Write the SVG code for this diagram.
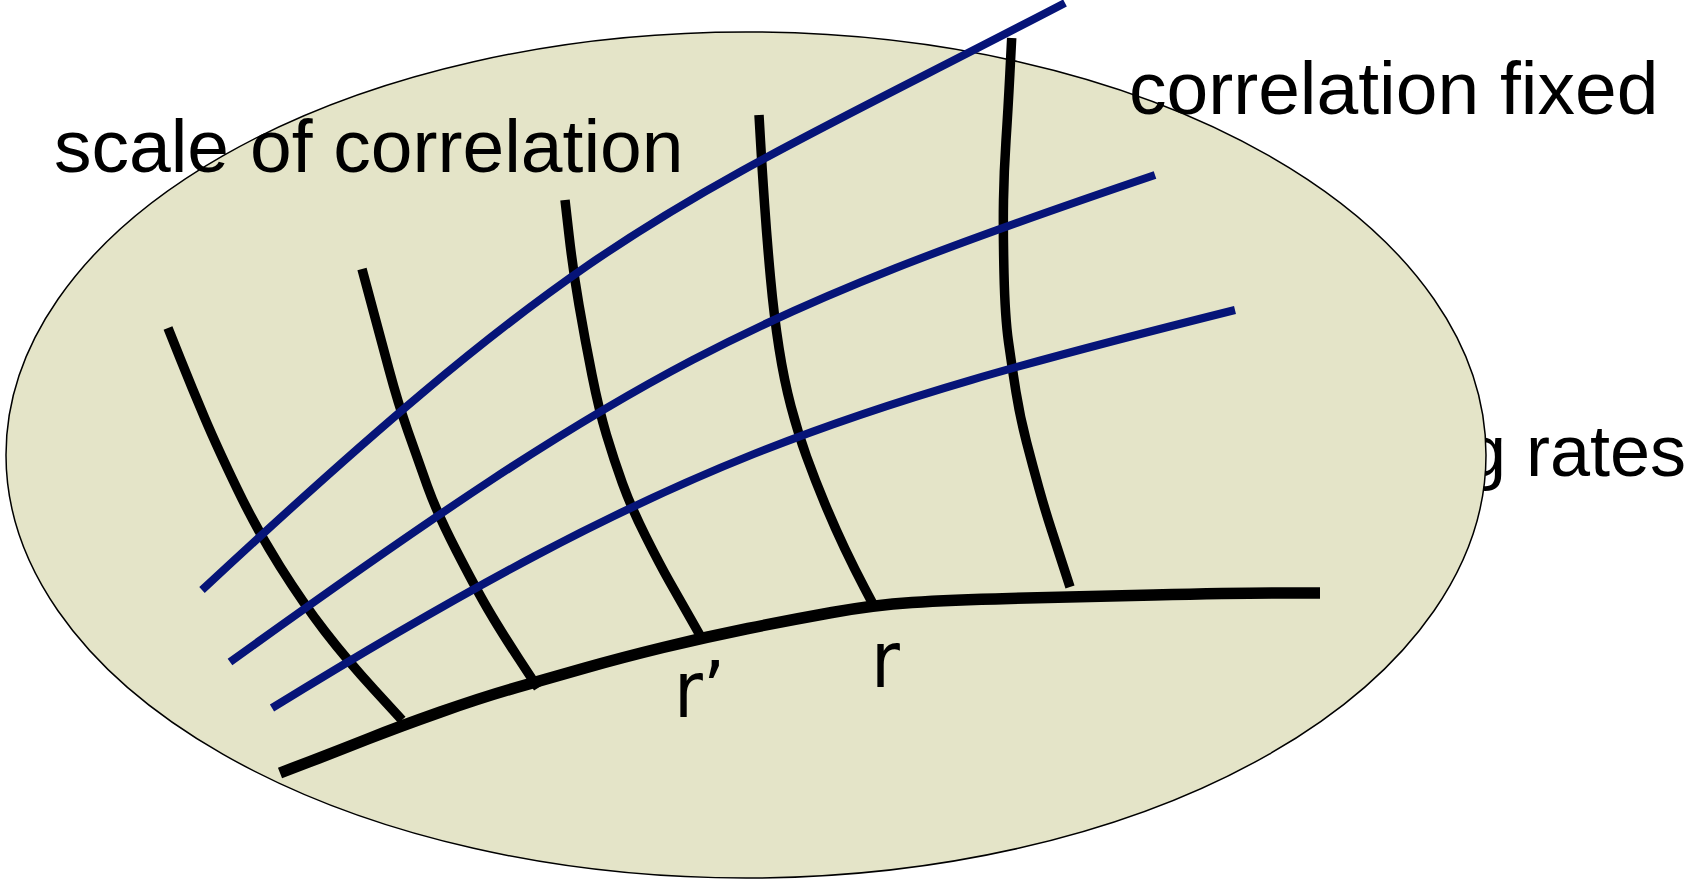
<svg xmlns="http://www.w3.org/2000/svg" width="1691" height="880" viewBox="0 0 1691 880">
<style>
.lbl{font-family:"Liberation Sans",Arial,sans-serif;font-size:75px;fill:#000}
.rl{font-family:"Liberation Sans Narrow","DejaVu Sans Condensed","Liberation Sans",sans-serif;font-size:78px;fill:#000}
.k{fill:none;stroke:#000;stroke-width:9.5;stroke-linejoin:round;stroke-linecap:butt}
.kb{fill:none;stroke:#000;stroke-width:11.5;stroke-linejoin:round;stroke-linecap:butt}
.b{fill:none;stroke:#061478;stroke-width:8;stroke-linejoin:round;stroke-linecap:butt}
</style>
<rect width="1691" height="880" fill="#fff"/>
<g id="label-rates"><text class="lbl" x="1686" y="476" text-anchor="end" style="font-size:72px">g rates</text></g>
<g id="region"><ellipse cx="746" cy="455" rx="740" ry="423" fill="#e4e4c8" stroke="#000" stroke-width="1.5"/></g>
<g id="connectors">
<path class="kb" d="M280,773 L310,761.5 Q340,750 369,738.5 Q398,727 440.5,712 Q483,697 516.5,687.5 Q550,678 585,668 Q620,658 663,647.5 Q706,637 748,628.5 Q790,620 832,612.5 Q874,605 912,602.5 Q950,600 1010,598.5 Q1070,597 1153.5,595 Q1237,593 1278.5,593 L1320,593"/>
<path class="k" d="M168,328 L180,358 Q192,388 204.5,417.5 Q217,447 237,488.5 Q257,530 280,566.5 Q303,603 325,631.5 Q347,660 374.5,690 L402,720"/>
<path class="k" d="M362,269 L371,302.5 Q380,336 389,369.5 Q398,403 408,431.5 Q418,460 427.5,486.5 Q437,513 456,550 Q475,587 487.5,608.5 Q500,630 519,659 L538,688"/>
<path class="k" d="M565,200 L569,235 Q573,270 579,305 Q585,340 592,375 Q599,410 606.5,435 Q614,460 622.5,483.5 Q631,507 645.5,536 Q660,565 670,582.5 Q680,600 690.5,618.5 L701,637"/>
<path class="k" d="M759,115 L760.5,141 Q762,167 764.5,203.5 Q767,240 770.5,278 Q774,316 779,348 Q784,380 791,406.5 Q798,433 806.5,456.5 Q815,480 825,504 Q835,528 845,549 Q855,570 864.5,588 L874,606"/>
<path class="k" d="M1011.7,38 L1009.85,74 Q1008,110 1006,140.5 Q1004,171 1003.5,200.5 Q1003,230 1004,273.5 Q1005,317 1008.5,342 Q1012,367 1016,392 Q1020,417 1026.5,442 Q1033,467 1039,488.5 Q1045,510 1051.5,530 Q1058,550 1064,568.5 L1070,587"/>
<path class="b" d="M202,590 C602,218 665,211 1065,3"/>
<path class="b" d="M230,662 C640,367 745,314 1155,175"/>
<path class="b" d="M272,708 C673,461.4 834,410.3 1235,310"/>
</g>
<g id="label-scale"><text class="lbl" x="54" y="172">scale of correlation</text></g>
<g id="label-fixed"><text class="lbl" x="1129" y="114">correlation fixed</text></g>
<g id="label-rprime"><text class="rl" x="674" y="717">r’</text></g>
<g id="label-r"><text class="rl" x="871" y="687">r</text></g>
</svg>
